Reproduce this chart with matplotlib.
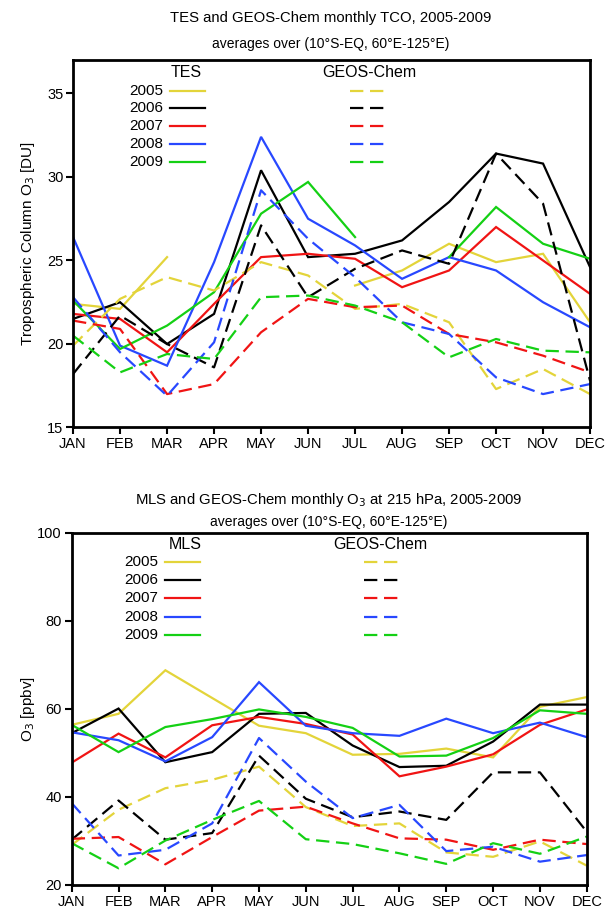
import numpy as np
import matplotlib
matplotlib.use("Agg")
import matplotlib.pyplot as plt

plt.rcParams['font.family'] = ['Liberation Sans', 'DejaVu Sans']

months = ['JAN', 'FEB', 'MAR', 'APR', 'MAY', 'JUN', 'JUL', 'AUG', 'SEP', 'OCT', 'NOV', 'DEC']
years = ['2005', '2006', '2007', '2008', '2009']
colors = ['#e3d43a', '#000000', '#f01414', '#2848ff', '#14d014']
nan = np.nan

# TES tropospheric column ozone [DU]
tes_2005 = [22.4, 22.1, 25.2, nan, nan, nan, 23.5, 24.4, 26.0, 24.9, 25.4, 21.3]
tes_2006 = [21.5, 22.5, 20.0, 21.8, 30.4, 25.2, 25.4, 26.2, 28.5, 31.4, 30.8, 24.6]
tes_2007 = [21.8, 21.5, 19.5, 22.4, 25.2, 25.4, 25.1, 23.4, 24.4, 27.0, 25.0, 23.0]
tes_2008 = [26.4, 19.9, 18.7, 24.9, 32.4, 27.5, 25.9, 23.9, 25.2, 24.4, 22.5, 21.0]
tes_2009 = [22.6, 19.7, 21.1, 23.1, 27.8, 29.7, 26.4, nan, 25.2, 28.2, 26.0, 25.1]

# GEOS-Chem tropospheric column ozone [DU]
gc_tco_2005 = [19.9, 22.7, 24.0, 23.2, 24.9, 24.1, 22.1, 22.4, 21.3, 17.3, 18.5, 17.0]
gc_tco_2006 = [18.2, 21.7, 20.0, 18.6, 27.1, 22.8, 24.5, 25.6, 24.8, 31.4, 28.4, 17.8]
gc_tco_2007 = [21.4, 20.9, 17.0, 17.6, 20.7, 22.7, 22.2, 22.3, 20.6, 20.1, 19.3, 18.3]
gc_tco_2008 = [22.8, 19.5, 16.9, 20.1, 29.2, 26.3, 24.0, 21.3, 20.6, 18.0, 17.0, 17.6]
gc_tco_2009 = [20.5, 18.3, 19.4, 19.1, 22.8, 22.9, 22.3, 21.3, 19.2, 20.3, 19.6, 19.5]

# MLS ozone at 215 hPa [ppbv]
mls_2005 = [56.4, 58.9, 68.8, 62.5, 56.2, 54.5, 49.6, 49.8, 51.0, 49.0, 60.5, 62.7]
mls_2006 = [54.5, 60.1, 47.9, 50.2, 58.9, 59.1, 51.7, 46.8, 47.1, 52.6, 61.0, 61.0]
mls_2007 = [47.8, 54.4, 49.0, 56.3, 58.2, 56.6, 54.2, 44.7, 46.9, 49.7, 56.4, 59.9]
mls_2008 = [54.7, 52.9, 48.1, 53.6, 66.1, 56.2, 54.5, 53.9, 57.8, 54.5, 56.9, 53.6]
mls_2009 = [56.4, 50.2, 55.9, 57.7, 59.9, 58.2, 55.7, 49.2, 49.4, 53.4, 59.7, 58.9]

# GEOS-Chem ozone at 215 hPa [ppbv]
gc_o3_2005 = [29.1, 37.1, 42.0, 43.9, 46.9, 37.7, 33.4, 34.0, 27.4, 26.4, 29.9, 24.4]
gc_o3_2006 = [30.3, 39.2, 30.3, 31.8, 49.4, 39.6, 35.4, 36.7, 34.8, 45.6, 45.6, 32.1]
gc_o3_2007 = [30.5, 30.9, 24.7, 30.9, 36.9, 37.8, 34.0, 30.6, 30.3, 28.0, 30.3, 29.3]
gc_o3_2008 = [38.6, 26.7, 28.0, 34.0, 53.4, 43.5, 35.2, 38.2, 27.7, 28.7, 25.3, 26.8]
gc_o3_2009 = [29.5, 23.8, 30.1, 34.8, 39.1, 30.4, 29.3, 27.2, 24.8, 29.5, 27.1, 31.0]

tes = [tes_2005, tes_2006, tes_2007, tes_2008, tes_2009]
gc_tco = [gc_tco_2005, gc_tco_2006, gc_tco_2007, gc_tco_2008, gc_tco_2009]
mls = [mls_2005, mls_2006, mls_2007, mls_2008, mls_2009]
gc_o3 = [gc_o3_2005, gc_o3_2006, gc_o3_2007, gc_o3_2008, gc_o3_2009]

LW = 1.6
DASH = (0, (6, 3))


def draw_panel(ax, obs, model, ylim, yticks, ylabel, label_x, obs_name, key):
    x = np.arange(len(months))
    for vals, c in zip(obs, colors):
        ax.plot(x, vals, color=c, lw=LW, solid_joinstyle='miter')
    for vals, c in zip(model, colors):
        ax.plot(x, vals, color=c, lw=LW, linestyle=DASH)
    ax.set_xlim(0, 11)
    ax.set_ylim(*ylim)
    ax.set_xticks(x)
    ax.set_xticklabels(months)
    ax.set_yticks(yticks)
    ax.tick_params(direction='out', length=5, width=1.5, labelsize=10.5, pad=2)
    for s in ax.spines.values():
        s.set_linewidth(2)
    ax.set_ylabel(ylabel, fontsize=11)
    ax.yaxis.set_label_coords(label_x, 0.5)

    # hand-made legend: observation column (solid) and model column (dashed)
    hx, gx, yr_x, s0, s1, d0, d1, y0, dy = key
    ax.text(hx, y0 + 0.05, obs_name, transform=ax.transAxes, ha='center', va='center', fontsize=11.5)
    ax.text(gx, y0 + 0.05, 'GEOS-Chem', transform=ax.transAxes, ha='center', va='center', fontsize=11.5)
    for i, (yr, c) in enumerate(zip(years, colors)):
        yy = y0 - i * dy
        ax.text(yr_x, yy, yr, transform=ax.transAxes, ha='right', va='center', fontsize=11)
        ax.plot([s0, s1], [yy, yy], transform=ax.transAxes, color=c, lw=LW)
        ax.plot([d0, d1], [yy, yy], transform=ax.transAxes, color=c, lw=LW, linestyle=DASH)


fig = plt.figure(figsize=(6.14, 9.15), dpi=100)

ax1 = fig.add_axes([0.119, 0.5328, 0.842, 0.4016])
draw_panel(ax1, tes, gc_tco, (15, 37), [15, 20, 25, 30, 35],
           'Tropospheric Column O$_3$ [DU]', -0.070, 'TES',
           (0.2195, 0.5725, 0.174, 0.188, 0.255, 0.536, 0.603, 0.917, 0.0485))
fig.text(0.539, 0.9803, 'TES and GEOS-Chem monthly TCO, 2005-2009', ha='center', va='center', fontsize=10.7)
fig.text(0.539, 0.952, 'averages over (10°S-EQ, 60°E-125°E)', ha='center', va='center', fontsize=10)

ax2 = fig.add_axes([0.1168, 0.0328, 0.8388, 0.3847])
draw_panel(ax2, mls, gc_o3, (20, 100), [20, 40, 60, 80, 100],
           'O$_3$ [ppbv]', -0.067, 'MLS',
           (0.221, 0.599, 0.1676, 0.181, 0.249, 0.568, 0.636, 0.918, 0.052))
fig.text(0.536, 0.4536, 'MLS and GEOS-Chem monthly O$_3$ at 215 hPa, 2005-2009', ha='center', va='center', fontsize=10.7)
fig.text(0.536, 0.4295, 'averages over (10°S-EQ, 60°E-125°E)', ha='center', va='center', fontsize=10)

fig.savefig('out.png', dpi=100)
